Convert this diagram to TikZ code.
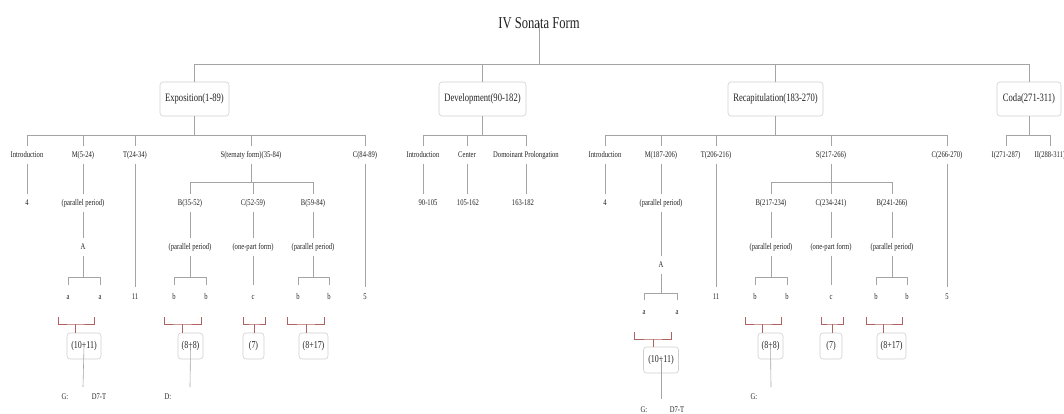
\documentclass[tikz,border=0pt]{standalone}
\usepackage{fontspec}
\setmainfont{Liberation Serif}[FakeStretch=0.76]
\definecolor{linegray}{HTML}{A4A4A4}
\definecolor{boxgray}{HTML}{CFCFCF}
\definecolor{brred}{HTML}{B06262}
\definecolor{ink}{HTML}{222222}

\tikzset{
  conn/.style={draw=linegray, line width=0.6pt},
  brk/.style={draw=brred, line width=0.7pt},
  elbow/.style={to path={-- (\tikztostart |- 0,#1) -| (\tikztotarget)}},
  sect/.style={draw=boxgray, rounded corners=3pt, line width=0.6pt,
    minimum height=34pt, inner sep=0pt, text=ink,
    font=\fontsize{11.3}{13}\selectfont},
  lbl/.style={inner xsep=1pt, inner ysep=5pt, text height=6.5pt, text depth=2pt,
    text=ink, font=\fontsize{8.7}{10}\selectfont},
  leaf/.style={lbl, inner ysep=8pt},
  num/.style={lbl, inner ysep=5.5pt},
  bar/.style={draw=boxgray, rounded corners=3pt, line width=0.6pt,
    minimum height=26pt, inner sep=0pt, text=ink,
    font=\fontsize{10.5}{12}\selectfont},
  ttl/.style={inner sep=1pt, text=ink, font=\fontsize{16.6}{19}\selectfont},
}

% red grouping brace: name, left x, right x, stem x, base y, target box
\newcommand\groupbrace[6]{%
  \coordinate (#1l) at (#2,#5-7);
  \coordinate (#1r) at (#3,#5-7);
  \coordinate (#1m) at (#4,#5);
  \draw[brk] (#1l) |- (#1m) -| (#1r);
  \draw[brk] (#1m) -- (#1m |- #6.north);
}

\begin{document}
\begin{tikzpicture}[x=1pt, y=-1pt]
\useasboundingbox (0,0) rectangle (1064,414);

% ---------- title and main sections ----------
\node[ttl] (ttl) at (539,23) {IV Sonata Form};
\coordinate (top) at (539,64);

\node[sect, minimum width=69pt] (expo) at (194.5,99) {Exposition(1-89)};
\node[sect, minimum width=87pt] (dev)  at (482.5,99) {Development(90-182)};
\node[sect, minimum width=95pt] (reca) at (775.5,99) {Recapitulation(183-270)};
\node[sect, minimum width=64pt] (coda) at (1029,99) {Coda(271-311)};

\draw[conn] (ttl.center) -- (top);
\foreach \n in {expo,dev,reca,coda} \draw[conn] (top) -| (\n.north);

% ---------- Exposition ----------
\node[lbl] (exIn) at (27,155)  {Introduction};
\node[lbl] (exM)  at (83,155)  {M(5-24)};
\node[lbl] (exT)  at (135,155) {T(24-34)};
\node[lbl] (exS)  at (251,155) {S(ternaty form)(35-84)};
\node[lbl] (exC)  at (365,155) {C(84-89)};
\foreach \n in {exIn,exM,exT,exS,exC} \draw[conn] (expo.south) to[elbow=135] (\n.north);

\node[lbl]  (exIn4) at (27,203)  {4};
\node[lbl]  (exMpp) at (83,203)  {(parallel period)};
\node[lbl]  (exMA)  at (83,247)  {A};
\node[leaf] (exMa1) at (68,297)  {a};
\node[leaf] (exMa2) at (100,297) {a};
\node[num]  (exT11) at (135,297) {11};
\node[num]  (exC5)  at (365,297) {5};

\node[lbl] (exSB1)  at (190,203) {B(35-52)};
\node[lbl] (exSC)   at (253,203) {C(52-59)};
\node[lbl] (exSB2)  at (313,203) {B(59-84)};
\node[lbl] (exSB1p) at (190,247) {(parallel period)};
\node[lbl] (exSCp)  at (253,247) {(one-part form)};
\node[lbl] (exSB2p) at (313,247) {(parallel period)};
\node[leaf] (exSb1) at (174,297) {b};
\node[leaf] (exSb2) at (206,297) {b};
\node[leaf] (exSc)  at (253,297) {c};
\node[leaf] (exSb3) at (298,297) {b};
\node[leaf] (exSb4) at (329,297) {b};

\draw[conn] (exIn.south) -- (exIn4.north);
\draw[conn] (exM.south) -- (exMpp.north);
\draw[conn] (exMpp.south) -- (exMA.north);
\foreach \n in {exMa1,exMa2} \draw[conn] (exMA.south) to[elbow=277] (\n.north);
\draw[conn] (exT.south) -- (exT11.north);
\draw[conn] (exC.south) -- (exC5.north);
\foreach \n in {exSB1,exSC,exSB2} \draw[conn] (exS.south) to[elbow=182] (\n.north);
\draw[conn] (exSB1.south) -- (exSB1p.north);
\draw[conn] (exSC.south) -- (exSCp.north);
\draw[conn] (exSB2.south) -- (exSB2p.north);
\foreach \n in {exSb1,exSb2} \draw[conn] (exSB1p.south) to[elbow=277] (\n.north);
\draw[conn] (exSCp.south) -- (exSc.north);
\foreach \n in {exSb3,exSb4} \draw[conn] (exSB2p.south) to[elbow=277] (\n.north);

\node[bar, minimum width=34pt] (exBarA)  at (84,346)    {(10+11)};
\node[bar, minimum width=25pt] (exBarB1) at (190.5,346) {(8+8)};
\node[bar, minimum width=21pt] (exBarC)  at (253.5,346) {(7)};
\node[bar, minimum width=29pt] (exBarB2) at (313.5,346) {(8+17)};
\groupbrace{exGa}{58}{94}{75}{324}{exBarA}
\groupbrace{exGb}{164}{201}{182}{324}{exBarB1}
\groupbrace{exGc}{243}{265}{254}{324}{exBarC}
\groupbrace{exGd}{287}{324}{306}{324}{exBarB2}

\node[lbl] (exKeyG) at (65,397)  {G:};
\node[lbl] (exKeyT) at (99,397)  {D7-T};
\node[lbl] (exKeyD) at (168,397) {D:};
\coordinate (exAend) at (83,387);
\coordinate (exBend) at (190,387);
\draw[conn] (exBarA.center) -- (exAend);
\draw[conn] (exBarB1.center) -- (exBend);

% ---------- Development ----------
\node[lbl] (dvIn) at (423,155) {Introduction};
\node[lbl] (dvCe) at (467,155) {Center};
\node[lbl] (dvDP) at (526,155) {Domoinant Prolongation};
\foreach \n in {dvIn,dvCe,dvDP} \draw[conn] (dev.south) to[elbow=135] (\n.north);
\node[lbl] (dv1) at (428,203) {90-105};
\node[lbl] (dv2) at (468,203) {105-162};
\node[lbl] (dv3) at (523,203) {163-182};
\draw[conn] (dvIn.south) -- (dvIn.south |- dv1.north);
\draw[conn] (dvCe.south) -- (dvCe.south |- dv2.north);
\draw[conn] (dvDP.south) -- (dvDP.south |- dv3.north);

% ---------- Recapitulation ----------
\node[lbl] (rcIn) at (605,155) {Introduction};
\node[lbl] (rcM)  at (661,155) {M(187-206)};
\node[lbl] (rcT)  at (716,155) {T(206-216)};
\node[lbl] (rcS)  at (831,155) {S(217-266)};
\node[lbl] (rcC)  at (947,155) {C(266-270)};
\foreach \n in {rcIn,rcM,rcT,rcS,rcC} \draw[conn] (reca.south) to[elbow=135] (\n.north);

\node[lbl]  (rcIn4) at (605,203) {4};
\node[lbl]  (rcMpp) at (661,203) {(parallel period)};
\node[lbl]  (rcMA)  at (661,265) {A};
\node[leaf] (rcMa1) at (644,312) {a};
\node[leaf] (rcMa2) at (677,312) {a};
\node[num]  (rcT11) at (716,297) {11};
\node[num]  (rcC5)  at (947,297) {5};

\node[lbl] (rcSB1)  at (771,203) {B(217-234)};
\node[lbl] (rcSC)   at (831,203) {C(234-241)};
\node[lbl] (rcSB2)  at (892,203) {B(241-266)};
\node[lbl] (rcSB1p) at (771,247) {(parallel period)};
\node[lbl] (rcSCp)  at (831,247) {(one-part form)};
\node[lbl] (rcSB2p) at (892,247) {(parallel period)};
\node[leaf] (rcSb1) at (755,297) {b};
\node[leaf] (rcSb2) at (787,297) {b};
\node[leaf] (rcSc)  at (831,297) {c};
\node[leaf] (rcSb3) at (876,297) {b};
\node[leaf] (rcSb4) at (907,297) {b};

\draw[conn] (rcIn.south) -- (rcIn4.north);
\draw[conn] (rcM.south) -- (rcMpp.north);
\draw[conn] (rcMpp.south) -- (rcMA.north);
\foreach \n in {rcMa1,rcMa2} \draw[conn] (rcMA.south) to[elbow=293] (\n.north);
\draw[conn] (rcT.south) -- (rcT11.north);
\draw[conn] (rcC.south) -- (rcC5.north);
\foreach \n in {rcSB1,rcSC,rcSB2} \draw[conn] (rcS.south) to[elbow=182] (\n.north);
\draw[conn] (rcSB1.south) -- (rcSB1p.north);
\draw[conn] (rcSC.south) -- (rcSCp.north);
\draw[conn] (rcSB2.south) -- (rcSB2p.north);
\foreach \n in {rcSb1,rcSb2} \draw[conn] (rcSB1p.south) to[elbow=277] (\n.north);
\draw[conn] (rcSCp.south) -- (rcSc.north);
\foreach \n in {rcSb3,rcSb4} \draw[conn] (rcSB2p.south) to[elbow=277] (\n.north);

\node[bar, minimum width=35pt] (rcBarA)  at (661,360)   {(10+11)};
\node[bar, minimum width=25pt] (rcBarB1) at (770.5,346) {(8+8)};
\node[bar, minimum width=22pt] (rcBarC)  at (831,346)   {(7)};
\node[bar, minimum width=29pt] (rcBarB2) at (891.5,346) {(8+17)};
\groupbrace{rcGa}{634}{671}{653}{339}{rcBarA}
\groupbrace{rcGb}{745}{781}{762}{324}{rcBarB1}
\groupbrace{rcGc}{821}{843}{832}{324}{rcBarC}
\groupbrace{rcGd}{866}{902}{883}{324}{rcBarB2}

\node[lbl] (rcKeyG) at (644,410) {G:};
\node[lbl] (rcKeyT) at (677,410) {D7-T};
\node[lbl] (rcKeyS) at (754,397) {G:};
\coordinate (rcAend) at (661,399);
\coordinate (rcBend) at (771,387);
\draw[conn] (rcBarA.center) -- (rcAend);
\draw[conn] (rcBarB1.center) -- (rcBend);

% ---------- Coda ----------
\node[lbl] (cdI)  at (1006,155) {I(271-287)};
\node[lbl] (cdII) at (1050,155) {II(288-311)};
\foreach \n in {cdI,cdII} \draw[conn] (coda.south) to[elbow=135] (\n.north);

\end{tikzpicture}
\end{document}
